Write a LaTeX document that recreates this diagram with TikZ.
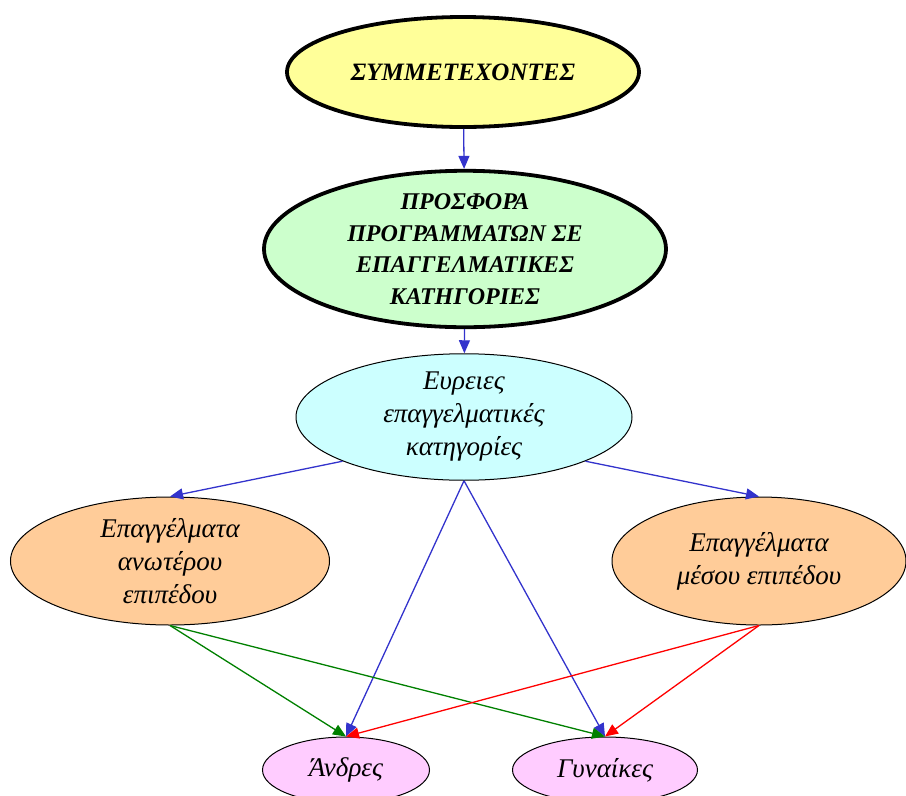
\documentclass[tikz,border=0pt]{standalone}
\usepackage{fontspec}
\setmainfont{Liberation Serif}
\usetikzlibrary{shapes.geometric,arrows.meta}
\definecolor{cyell}{HTML}{FFFF99}
\definecolor{cgreen}{HTML}{CCFFCC}
\definecolor{ccyan}{HTML}{CCFFFF}
\definecolor{corange}{HTML}{FFCC99}
\definecolor{cpink}{HTML}{FFCCFF}
\definecolor{cblue}{HTML}{3333CC}
\definecolor{cgr}{HTML}{008000}
\definecolor{cred}{HTML}{FF0000}
\tikzset{
  ell/.style={ellipse, draw=black, inner sep=0pt, align=center},
  thickell/.style={ell, line width=3.8pt},
  thinell/.style={ell, line width=1pt, font=\fontsize{27}{33}\selectfont\itshape},
  conn/.style={line width=1.3pt, -{Triangle[length=13pt,width=11pt]}},
}
\begin{document}
\begin{tikzpicture}[x=1pt,y=-1pt]
\useasboundingbox (0,0) rectangle (906,796);
\node[thickell, fill=cyell, minimum width=352pt, minimum height=110pt,
      font=\fontsize{25}{28}\selectfont\bfseries\itshape] (sym) at (463,72) {ΣΥΜΜΕΤΕΧΟΝΤΕΣ};
\node[thickell, fill=cgreen, minimum width=402pt, minimum height=142pt,
      font=\fontsize{24}{31.5}\selectfont\bfseries\itshape] (pro) at (465,249)
      {ΠΡΟΣΦΟΡΑ\\ΠΡΟΓΡΑΜΜΑΤΩΝ ΣΕ\\ΕΠΑΓΓΕΛΜΑΤΙΚΕΣ\\ΚΑΤΗΓΟΡΙΕΣ};
\node[thinell, fill=ccyan, minimum width=336pt, minimum height=110pt] (eur) at (464,417)
      {Ευρειες\\επαγγελματικές\\κατηγορίες};
\node[thinell, fill=corange, minimum width=319pt, minimum height=128pt] (anw) at (170,561)
      {Επαγγέλματα\\ανωτέρου\\επιπέδου};
\node[thinell, fill=corange, minimum width=294pt, minimum height=128pt] (mes) at (759,561)
      {Επαγγέλματα\\μέσου επιπέδου};
\node[thinell, fill=cpink, minimum width=167pt, minimum height=66pt] (and) at (346,770) {Άνδρες};
\node[thinell, fill=cpink, minimum width=185pt, minimum height=66pt] (gyn) at (605,770) {Γυναίκες};
\draw[conn, cblue] (sym) -- (pro);
\draw[conn, cblue] (pro) -- (eur);
\draw[conn, cblue] (eur.{-160}) -- (anw.north);
\draw[conn, cblue] (eur.{-20}) -- (mes.north);
\draw[conn, cblue] (eur.south) -- (and.north);
\draw[conn, cblue] (eur.south) -- (gyn.north);
\draw[conn, cgr] (anw.south) -- (and.north);
\draw[conn, cgr] (anw.south) -- (gyn.north);
\draw[conn, cred] (mes.south) -- (and.north);
\draw[conn, cred] (mes.south) -- (gyn.north);
\end{tikzpicture}
\end{document}
